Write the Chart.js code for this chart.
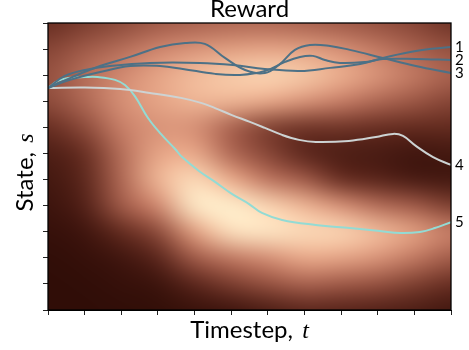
<!DOCTYPE html>
<html>
<head>
<meta charset="utf-8">
<script src="https://cdn.jsdelivr.net/npm/chart.js@4.4.1/dist/chart.umd.min.js"></script>
<style>
  body { margin: 0; background: #fff; }
  canvas { display: block; }
</style>
</head>
<body>
<canvas id="rewardChart" width="469" height="350"></canvas>
<script>
const rewardTimes = [0, 1, 2, 3, 4, 5, 6, 7, 8, 9, 10, 11];
const rewardStates = [11, 10, 9, 8, 7, 6, 5, 4, 3, 2, 1, 0];
const rewardRows = [
    [0.30, 0.35, 0.40, 0.45, 0.48, 0.50, 0.50, 0.48, 0.45, 0.42, 0.38, 0.32],
    [0.38, 0.45, 0.52, 0.60, 0.66, 0.70, 0.72, 0.70, 0.64, 0.56, 0.48, 0.42],
    [0.42, 0.52, 0.62, 0.72, 0.80, 0.85, 0.88, 0.84, 0.76, 0.66, 0.56, 0.48],
    [0.40, 0.50, 0.64, 0.72, 0.78, 0.78, 0.74, 0.66, 0.58, 0.50, 0.44, 0.38],
    [0.30, 0.40, 0.58, 0.66, 0.64, 0.48, 0.36, 0.32, 0.32, 0.30, 0.28, 0.28],
    [0.20, 0.30, 0.52, 0.72, 0.74, 0.50, 0.38, 0.25, 0.20, 0.18, 0.15, 0.16],
    [0.16, 0.26, 0.50, 0.78, 0.90, 0.75, 0.55, 0.45, 0.30, 0.24, 0.18, 0.16],
    [0.12, 0.22, 0.45, 0.62, 0.95, 0.97, 0.88, 0.78, 0.65, 0.52, 0.45, 0.36],
    [0.08, 0.14, 0.28, 0.40, 0.70, 0.92, 0.94, 0.90, 0.88, 0.80, 0.70, 0.58],
    [0.05, 0.08, 0.15, 0.25, 0.45, 0.56, 0.64, 0.74, 0.72, 0.66, 0.56, 0.46],
    [0.04, 0.05, 0.08, 0.12, 0.25, 0.35, 0.42, 0.48, 0.45, 0.42, 0.36, 0.30],
    [0.04, 0.04, 0.05, 0.06, 0.10, 0.14, 0.20, 0.25, 0.24, 0.22, 0.20, 0.16]
];

// Trayectorias
const traj1T = [0, 0.46, 1.01, 1.69, 2.78, 4.15, 5.05, 5.92, 6.88, 7.70, 8.52, 9.14, 10.04, 11];
const traj1S = [8.51, 8.97, 9.20, 9.35, 9.47, 9.47, 9.39, 9.24, 9.16, 9.28, 9.43, 9.66, 9.93, 10.08];

const traj2T = [0, 0.6, 1.42, 2.24, 3.06, 3.68, 4.56, 5.24, 5.92, 6.47, 6.88, 7.23, 7.56, 7.97, 8.68, 9.14, 10.04, 11];
const traj2S = [8.51, 8.82, 9.12, 9.35, 9.35, 9.24, 9.05, 9.01, 9.16, 9.51, 9.70, 9.74, 9.58, 9.47, 9.51, 9.62, 9.62, 9.58];

const traj3T = [0, 0.6, 1.42, 2.24, 3.06, 3.74, 4.28, 4.83, 5.38, 5.92, 6.33, 6.74, 7.15, 7.70, 8.24, 9.14, 10.04, 11];
const traj3S = [8.51, 8.89, 9.35, 9.70, 10.08, 10.23, 10.20, 9.66, 9.20, 9.08, 9.43, 9.97, 10.16, 10.12, 9.97, 9.66, 9.35, 9.08];

const traj4T = [0, 1.01, 1.97, 2.78, 3.63, 4.20, 4.56, 5.02, 5.51, 5.92, 6.39, 6.85, 7.31, 8.21, 8.95, 9.42, 9.69, 10.04, 10.51, 11];
const traj4S = [8.51, 8.53, 8.47, 8.32, 8.13, 7.93, 7.74, 7.47, 7.21, 6.98, 6.71, 6.52, 6.44, 6.48, 6.63, 6.75, 6.67, 6.29, 5.86, 5.56];

const traj5T = [0, 0.27, 0.55, 1.01, 1.36, 1.83, 2.10, 2.37, 2.73, 3.08, 3.47, 3.66, 4.12, 4.56, 5.02, 5.49, 5.84, 6.39, 7.31, 8.24, 9.06, 9.61, 10.15, 10.56, 11];
const traj5S = [8.51, 8.78, 8.89, 8.93, 8.93, 8.82, 8.62, 8.20, 7.36, 6.75, 6.17, 5.86, 5.33, 4.91, 4.45, 4.06, 3.72, 3.45, 3.26, 3.14, 3.03, 2.95, 2.99, 3.14, 3.37];

const trajLabels = ['1', '2', '3', '4', '5'];

(function () {
    const blue = '#4d7186';
    const colors = [blue, blue, blue, '#cdd3d3', '#93dbd4'];
    const trajs = [[traj1T, traj1S], [traj2T, traj2S], [traj3T, traj3S], [traj4T, traj4S], [traj5T, traj5S]];

    // paleta: oscuro marron -> crema
    const cmap = [
        [0.00, [42, 10, 4]],
        [0.15, [64, 22, 15]],
        [0.30, [104, 46, 34]],
        [0.45, [160, 90, 72]],
        [0.60, [205, 132, 108]],
        [0.75, [235, 172, 140]],
        [0.88, [250, 212, 178]],
        [1.00, [255, 246, 212]]
    ];

    function colorFor(v) {
        for (let i = 1; i < cmap.length; i++) {
            if (v <= cmap[i][0]) {
                const a = cmap[i - 1], b = cmap[i];
                const f = (v - a[0]) / (b[0] - a[0]);
                return a[1].map((c, k) => Math.round(c + (b[1][k] - c) * f));
            }
        }
        return cmap[cmap.length - 1][1];
    }

    // imagen con un borde repetido para que el desenfoque no oscurezca los lados
    let heatCanvas;
    function buildHeat() {
        const nc = rewardTimes.length, nr = rewardStates.length;
        const c = document.createElement('canvas');
        c.width = nc + 2;
        c.height = nr + 2;
        const g = c.getContext('2d');
        const img = g.createImageData(c.width, c.height);
        for (let r = 0; r < c.height; r++) {
            for (let col = 0; col < c.width; col++) {
                const rr = Math.min(nr - 1, Math.max(0, r - 1));
                const cc = Math.min(nc - 1, Math.max(0, col - 1));
                const rgb = colorFor(rewardRows[rr][cc]);
                const idx = (r * c.width + col) * 4;
                img.data[idx] = rgb[0];
                img.data[idx + 1] = rgb[1];
                img.data[idx + 2] = rgb[2];
                img.data[idx + 3] = 255;
            }
        }
        g.putImageData(img, 0, 0);
        return c;
    }

    const heatmapPlugin = {
        id: 'heatmap',
        beforeDatasetsDraw(chart) {
            const { ctx, chartArea, scales } = chart;
            if (!heatCanvas) heatCanvas = buildHeat();
            const x0 = scales.x.getPixelForValue(rewardTimes[0] - 1.5);
            const x1 = scales.x.getPixelForValue(rewardTimes[rewardTimes.length - 1] + 1.5);
            const y0 = scales.y.getPixelForValue(rewardStates[0] + 1.5);
            const y1 = scales.y.getPixelForValue(rewardStates[rewardStates.length - 1] - 1.5);
            ctx.save();
            ctx.beginPath();
            ctx.rect(chartArea.left, chartArea.top, chartArea.width, chartArea.height);
            ctx.clip();
            ctx.imageSmoothingEnabled = true;
            ctx.imageSmoothingQuality = 'high';
            ctx.filter = 'blur(6px)';
            ctx.drawImage(heatCanvas, x0, y0, x1 - x0, y1 - y0);
            ctx.restore();
        },
        afterDatasetsDraw(chart) {
            const { ctx, chartArea } = chart;
            ctx.save();
            ctx.strokeStyle = '#000';
            ctx.lineWidth = 1.3;
            ctx.strokeRect(chartArea.left, chartArea.top, chartArea.width, chartArea.height);
            ctx.restore();
        },
        afterDraw(chart) {
            const { ctx, chartArea } = chart;
            const cx = (chartArea.left + chartArea.right) / 2;
            ctx.save();
            ctx.fillStyle = '#000';

            // titulo
            ctx.font = '24px Lato';
            ctx.textAlign = 'center';
            ctx.textBaseline = 'alphabetic';
            ctx.fillText('Reward', cx, 17);

            // etiquetas de trayectorias a la derecha
            ctx.font = '15px Lato';
            ctx.textBaseline = 'middle';
            ctx.textAlign = 'left';
            trajLabels.forEach((lab, i) => {
                const pts = chart.getDatasetMeta(i).data;
                const last = pts[pts.length - 1];
                ctx.fillText(lab, chartArea.right + 4, last.y);
            });

            // titulo eje x con t en cursiva
            const sans = '24px Lato';
            const ital = 'italic 24px "Liberation Serif"';
            const xa = 'Timestep, ';
            ctx.font = sans;
            const wa = ctx.measureText(xa).width + 3;
            ctx.font = ital;
            const wb = ctx.measureText('t').width;
            let sx = cx - (wa + wb) / 2;
            ctx.textBaseline = 'alphabetic';
            ctx.font = sans;
            ctx.fillText(xa, sx, 338);
            ctx.font = ital;
            ctx.fillText('t', sx + wa, 338);

            // titulo eje y
            const ya = 'State, ';
            ctx.font = sans;
            const wya = ctx.measureText(ya).width + 3;
            ctx.font = ital;
            const wyb = ctx.measureText('s').width;
            const cy = (chartArea.top + chartArea.bottom) / 2 + 6;
            ctx.translate(33, cy);
            ctx.rotate(-Math.PI / 2);
            const sy = -(wya + wyb) / 2;
            ctx.font = sans;
            ctx.fillText(ya, sy, 0);
            ctx.font = ital;
            ctx.fillText('s', sy + wya, 0);
            ctx.restore();
        }
    };

    const datasets = trajs.map((tr, i) => ({
        label: trajLabels[i],
        data: tr[0].map((t, k) => ({ x: t, y: tr[1][k] })),
        borderColor: colors[i],
        borderWidth: 2,
        pointRadius: 0,
        fill: false,
        tension: 0.4
    }));

    const axisCommon = {
        type: 'linear',
        min: 0,
        max: 11,
        ticks: { display: false, stepSize: 1 },
        grid: { drawOnChartArea: false, drawTicks: true, tickLength: 5, color: '#222' },
        border: { display: true, color: '#000', width: 1 }
    };

    const ctx = document.getElementById('rewardChart').getContext('2d');
    new Chart(ctx, {
        type: 'line',
        data: { datasets: datasets },
        options: {
            responsive: false,
            animation: false,
            devicePixelRatio: 1,
            layout: { padding: { top: 23, right: 18, left: 0, bottom: 0 } },
            plugins: {
                legend: { display: false },
                tooltip: { enabled: false },
                title: { display: false }
            },
            scales: {
                x: Object.assign({}, axisCommon, {
                    afterFit(scale) { scale.height = 40; }
                }),
                y: Object.assign({}, axisCommon, {
                    afterFit(scale) { scale.width = 48; }
                })
            }
        },
        plugins: [heatmapPlugin]
    });
})();
</script>
</body>
</html>
